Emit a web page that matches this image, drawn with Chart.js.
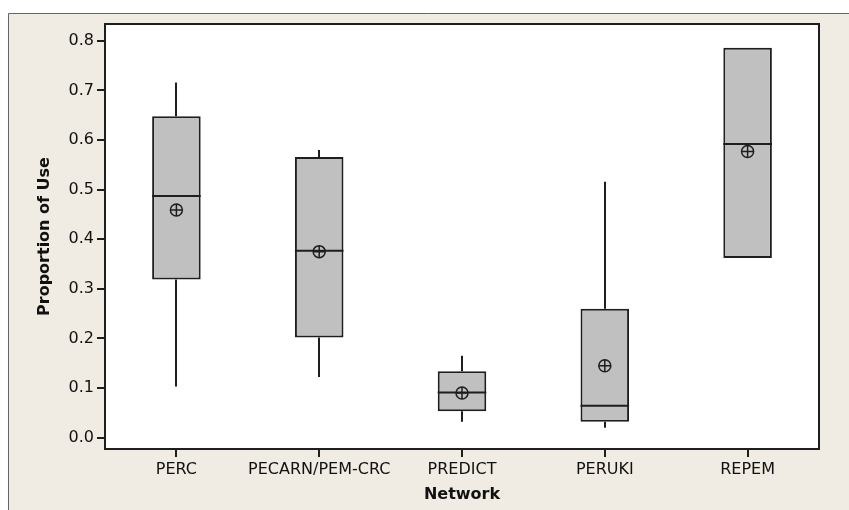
<!DOCTYPE html>
<html>
<head>
<meta charset="utf-8">
<script src="https://cdn.jsdelivr.net/npm/chart.js@4.4.1/dist/chart.umd.min.js"></script>
<style>
  html, body { margin: 0; padding: 0; background: #fff; }
</style>
</head>
<body>
<canvas id="boxChart" width="849" height="510"></canvas>
<script>
// boxplot data
const networks = ['PERC', 'PECARN/PEM-CRC', 'PREDICT', 'PERUKI', 'REPEM'];
const whiskerLow = [0.103, 0.122, 0.032, 0.020, 0.362];
const q1 = [0.319, 0.202, 0.053, 0.032, 0.362];
const median = [0.487, 0.377, 0.091, 0.064, 0.592];
const q3 = [0.648, 0.566, 0.134, 0.260, 0.786];
const whiskerHigh = [0.716, 0.580, 0.165, 0.516, 0.786];
const mean = [0.459, 0.375, 0.090, 0.145, 0.577];
const yTicks = [0.0, 0.1, 0.2, 0.3, 0.4, 0.5, 0.6, 0.7, 0.8];

const INK = '#1e1e1e';
const BEIGE = '#f1ece3';

Chart.defaults.font.family = "'DejaVu Sans', sans-serif";
Chart.defaults.color = '#111';

// frame, whiskers and medians
const boxPlotPlugin = {
  id: 'boxPlot',
  beforeDraw(chart) {
    const ctx = chart.ctx;
    const a = chart.chartArea;
    ctx.save();
    ctx.fillStyle = '#fff';
    ctx.fillRect(0, 0, chart.width, chart.height);
    ctx.fillStyle = BEIGE;
    ctx.fillRect(8, 13, chart.width - 8, chart.height - 13);
    ctx.strokeStyle = '#666';
    ctx.lineWidth = 1;
    ctx.beginPath();
    ctx.moveTo(8.5, chart.height);
    ctx.lineTo(8.5, 13.5);
    ctx.lineTo(chart.width, 13.5);
    ctx.stroke();
    ctx.fillStyle = '#fff';
    ctx.fillRect(a.left, a.top, a.right - a.left, a.bottom - a.top);
    ctx.restore();
  },
  beforeDatasetsDraw(chart) {
    const ctx = chart.ctx;
    const x = chart.scales.x, y = chart.scales.y;
    ctx.save();
    ctx.strokeStyle = INK;
    ctx.lineWidth = 2;
    networks.forEach((n, i) => {
      const px = Math.round(x.getPixelForValue(i));
      ctx.beginPath();
      ctx.moveTo(px, y.getPixelForValue(whiskerLow[i]));
      ctx.lineTo(px, y.getPixelForValue(q1[i]));
      ctx.moveTo(px, y.getPixelForValue(q3[i]));
      ctx.lineTo(px, y.getPixelForValue(whiskerHigh[i]));
      ctx.stroke();
    });
    ctx.restore();
  },
  afterDatasetDraw(chart, args) {
    if (args.index !== 0) return;
    const ctx = chart.ctx;
    const y = chart.scales.y;
    ctx.save();
    ctx.strokeStyle = INK;
    ctx.lineWidth = 2;
    args.meta.data.forEach((bar, i) => {
      const py = y.getPixelForValue(median[i]);
      ctx.beginPath();
      ctx.moveTo(bar.x - bar.width / 2, py);
      ctx.lineTo(bar.x + bar.width / 2, py);
      ctx.stroke();
    });
    ctx.restore();
  },
  afterDraw(chart) {
    const a = chart.chartArea;
    const ctx = chart.ctx;
    ctx.save();
    ctx.strokeStyle = INK;
    ctx.lineWidth = 2;
    ctx.strokeRect(a.left, a.top, a.right - a.left, a.bottom - a.top);
    ctx.restore();
  }
};

new Chart(document.getElementById('boxChart'), {
  type: 'bar',
  data: {
    labels: networks,
    datasets: [
      {
        label: 'IQR',
        data: networks.map((n, i) => [q1[i], q3[i]]),
        backgroundColor: '#c0c0c0',
        borderColor: INK,
        borderWidth: 2,
        borderSkipped: false,
        barPercentage: 0.34,
        categoryPercentage: 1,
        order: 2
      },
      {
        type: 'line',
        label: 'Mean',
        data: mean,
        showLine: false,
        pointStyle: 'circle',
        pointRadius: 6,
        pointBorderWidth: 1.5,
        pointBorderColor: INK,
        pointBackgroundColor: 'rgba(0,0,0,0)',
        order: 1
      },
      {
        type: 'line',
        label: 'Mean cross',
        data: mean,
        showLine: false,
        pointStyle: 'cross',
        pointRadius: 6,
        pointBorderWidth: 1.5,
        pointBorderColor: INK,
        order: 0
      }
    ]
  },
  options: {
    responsive: false,
    animation: false,
    events: [],
    layout: { padding: { top: 24, right: 30, left: 0, bottom: 0 } },
    plugins: { legend: { display: false }, tooltip: { enabled: false } },
    scales: {
      x: {
        offset: true,
        afterFit(scale) { scale.height = 61; },
        grid: { display: true, drawOnChartArea: false, offset: false, tickLength: 8, color: INK, lineWidth: 2 },
        border: { display: true, color: INK, width: 2 },
        ticks: { padding: 3, font: { size: 16 }, maxRotation: 0, autoSkip: false },
        title: { display: true, text: 'Network', font: { size: 16, weight: 'bold' }, padding: { top: 0, bottom: 6 } }
      },
      y: {
        min: -0.023,
        max: 0.834,
        afterFit(scale) { scale.width = 105; },
        afterBuildTicks(scale) { scale.ticks = yTicks.map(v => ({ value: v })); },
        grid: { display: true, drawOnChartArea: false, tickLength: 8, color: INK, lineWidth: 2 },
        border: { display: true, color: INK, width: 2 },
        ticks: { padding: 3, font: { size: 16 }, callback: v => Number(v).toFixed(1) },
        title: { display: true, text: 'Proportion of Use', font: { size: 16, weight: 'bold' }, padding: { top: 35, bottom: 0 } }
      }
    }
  },
  plugins: [boxPlotPlugin]
});
</script>
</body>
</html>
